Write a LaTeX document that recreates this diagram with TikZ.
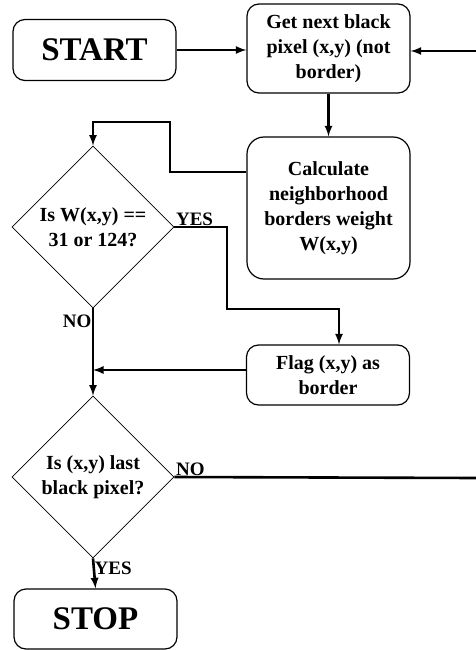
\documentclass[tikz,border=0pt]{standalone}
\usepackage{fontspec}
\setmainfont{Liberation Serif}
\usetikzlibrary{shapes,arrows,calc,positioning}

\begin{document}
\begin{tikzpicture}[x=1pt,y=-1pt,
    blok/.style={draw, line width=1.2pt, rounded corners=12pt, align=center, inner sep=0pt,
        minimum width=163pt, font=\bfseries\fontsize{20}{25}\selectfont},
    term/.style={blok, minimum height=61pt, font=\bfseries\fontsize{33}{36}\selectfont},
    romb/.style={draw, line width=0.8pt, diamond, aspect=1, align=center, inner sep=0pt,
        minimum width=162pt, minimum height=162pt, font=\bfseries\fontsize{20}{25}\selectfont},
    strelka/.style={line width=2.6pt, -latex},
    linia/.style={line width=2.6pt},
    metka/.style={font=\bfseries\fontsize{19}{22}\selectfont, inner sep=1.5pt}]
    \useasboundingbox (0,0) rectangle (476,650);
    %блоки
    \node[term] (start) at (94.5,50) {START};
    \node[blok, minimum height=89pt] (get) at (328.5,48.5) {Get next black\\pixel (x,y) (not\\border)};
    \node[blok, minimum height=142pt, rounded corners=17pt] (calc) at (328.5,208) {Calculate\\neighborhood\\borders weight\\W(x,y)};
    \node[romb] (test1) at (93,227) {Is W(x,y) ==\\31 or 124?};
    \node[blok, minimum height=60pt] (flag) at (328,375) {Flag (x,y) as\\border};
    \node[romb] (test2) at (93,477) {Is (x,y) last\\black pixel?};
    \node[term, minimum height=60pt] (stop) at (95.5,619) {STOP};
    %края
    \coordinate (vhod) at (476,51);
    \coordinate (vyhod) at (476,478);
    %стрелки
    \draw[strelka] (start.east) -- (start.east -| get.west);
    \draw[strelka] (vhod) -- (vhod -| get.east);
    \draw[strelka] (get.south) -- (calc.north);
    \draw[strelka] ([yshift=36pt]calc.west) -| (170,122) -| (test1.north);
    \draw[strelka] (test1.east) -| (227,309) -| ([xshift=11pt]flag.north);
    \draw[strelka] ([yshift=5pt]flag.west) -- ([yshift=5pt]flag.west -| test1.south);
    \draw[strelka] (test1.south) -- (test2.north);
    \draw[linia] (test2.east) -- (vyhod);
    \draw[strelka] (test2.south) -- (stop.north);
    %подписи
    \node[metka, above right] (da1) at (test1.east) {YES};
    \node[metka, below left, yshift=-5pt] (net1) at (test1.south) {NO};
    \node[metka, above right] (net2) at (test2.east) {NO};
    \node[metka, below right, yshift=-2pt] (da2) at (test2.south) {YES};
\end{tikzpicture}
\end{document}
